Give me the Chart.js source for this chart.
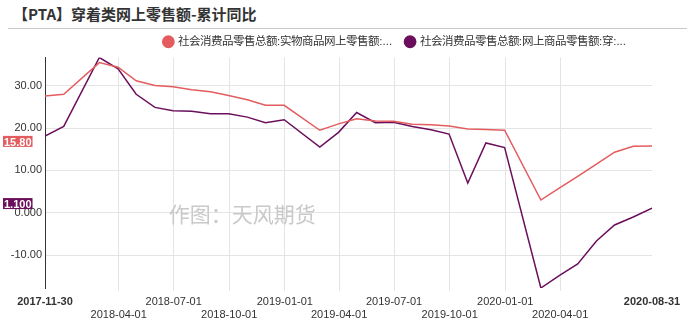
<!DOCTYPE html>
<html lang="zh-CN">
<head>
<meta charset="utf-8">
<title>【PTA】穿着类网上零售额-累计同比</title>
<script src="https://cdn.jsdelivr.net/npm/chart.js@4.4.1/dist/chart.umd.min.js"></script>
<style>
  html, body { margin: 0; padding: 0; background: #fff; }
  .wrap { position: relative; width: 687px; height: 322px; overflow: hidden;
          font-family: "Noto Sans CJK SC", "Liberation Sans", sans-serif; }
  .title { position: absolute; left: 13px; top: 3px; font-size: 15px; font-weight: bold; color: #333; white-space: nowrap; }
  .rule { position: absolute; left: 8px; right: 0; top: 28px; border-top: 1px solid #c8c8c8; }
  .plot { position: absolute; left: 0; top: 22px; }
</style>
</head>
<body>
<div class="wrap">
  <div class="title">【PTA】穿着类网上零售额-累计同比</div>
  <div class="rule"></div>
  <canvas class="plot" id="chart" width="687" height="300"></canvas>
</div>
<script>
// 月度数据（1月与2月合并发布）
const dates = [
  '2017-11-30', '2017-12-31', '2018-02-28', '2018-03-31', '2018-04-30', '2018-05-31',
  '2018-06-30', '2018-07-31', '2018-08-31', '2018-09-30', '2018-10-31', '2018-11-30',
  '2018-12-31', '2019-02-28', '2019-03-31', '2019-04-30', '2019-05-31', '2019-06-30',
  '2019-07-31', '2019-08-31', '2019-09-30', '2019-10-31', '2019-11-30', '2019-12-31',
  '2020-02-29', '2020-03-31', '2020-04-30', '2020-05-31', '2020-06-30', '2020-07-31',
  '2020-08-31'
];
const physicalOnline = [
  27.6, 28.0, 35.5, 34.4, 31.2, 30.1, 29.8, 29.1, 28.6, 27.7, 26.7, 25.4,
  25.4, 19.5, 21.0, 22.2, 21.7, 21.6, 20.9, 20.8, 20.5, 19.8, 19.7, 19.5,
  3.0, 5.9, 8.6, 11.5, 14.3, 15.7, 15.8
];
const apparelOnline = [
  18.1, 20.4, 36.7, 34.0, 28.0, 24.9, 24.1, 24.0, 23.4, 23.4, 22.6, 21.3,
  22.0, 15.5, 19.0, 23.7, 21.3, 21.4, 20.4, 19.6, 18.6, 7.0, 16.5, 15.4,
  -17.8, -14.8, -12.1, -6.7, -2.9, -1.0, 1.1
];
const seriesNames = [
  '社会消费品零售总额:实物商品网上零售额:...',
  '社会消费品零售总额:网上商品零售额:穿:...'
];
const xTickDates = [
  '2017-11-30', '2018-04-01', '2018-07-01', '2018-10-01', '2019-01-01', '2019-04-01',
  '2019-07-01', '2019-10-01', '2020-01-01', '2020-04-01', '2020-08-31'
];
const yTickValues = [-10, 0, 10, 20, 30];
const watermark = '作图：天风期货';

const RED = '#e35c5f';
const PURPLE = '#6b0f5c';
const GRID = '#e4e4e4';
const TEXT = '#333';

const toTs = s => Date.parse(s + 'T00:00:00Z');
const points = vals => dates.map((d, i) => ({ x: toTs(d), y: vals[i] }));
const allValues = physicalOnline.concat(apparelOnline);

// 水印
const watermarkPlugin = {
  id: 'watermark',
  beforeDatasetsDraw(chart) {
    const { ctx, chartArea: a } = chart;
    ctx.save();
    ctx.font = '21px "Noto Sans CJK SC", sans-serif';
    ctx.fillStyle = '#c9c9c9';
    ctx.textAlign = 'center';
    ctx.textBaseline = 'middle';
    ctx.fillText(watermark, a.left + (a.right - a.left) * 0.325, a.top + (a.bottom - a.top) * 0.68);
    ctx.restore();
  }
};

// 图例整体向左收一点，不贴着绘图区右缘
const legendInset = {
  id: 'legendInset',
  afterLayout(chart) {
    if (chart.legend) chart.legend.right -= 12;
  }
};

// 左侧最新值标签
const lastValueTags = {
  id: 'lastValueTags',
  afterDraw(chart) {
    const { ctx, scales: { y } } = chart;
    ctx.save();
    ctx.font = 'bold 11px "Liberation Sans", Arial, sans-serif';
    ctx.textBaseline = 'alphabetic';
    chart.data.datasets.forEach(ds => {
      const v = ds.data[ds.data.length - 1].y;
      const py = y.getPixelForValue(v);
      const text = v.toPrecision(4);
      const w = ctx.measureText(text).width;
      ctx.fillStyle = ds.borderColor;
      ctx.fillRect(3, py - 10, w + 2, 11);
      ctx.fillStyle = '#fff';
      ctx.fillText(text, 4, py);
    });
    ctx.restore();
  }
};

const lastX = xTickDates.length - 1;

new Chart(document.getElementById('chart'), {
  type: 'line',
  data: {
    datasets: [
      { label: seriesNames[0], data: points(physicalOnline), borderColor: RED, backgroundColor: RED,
        borderWidth: 1.5, pointRadius: 0, tension: 0 },
      { label: seriesNames[1], data: points(apparelOnline), borderColor: PURPLE, backgroundColor: PURPLE,
        borderWidth: 1.5, pointRadius: 0, tension: 0 }
    ]
  },
  options: {
    animation: false,
    responsive: false,
    layout: { padding: { left: 0, right: 35, top: 0, bottom: 0 } },
    plugins: {
      legend: {
        position: 'top',
        align: 'end',
        labels: {
          usePointStyle: true, pointStyle: 'circle', boxWidth: 8, boxHeight: 8,
          padding: 14, color: TEXT, font: { size: 11.5 }
        }
      },
      tooltip: { enabled: false }
    },
    scales: {
      x: {
        type: 'linear',
        min: toTs(dates[0]),
        max: toTs(dates[dates.length - 1]),
        afterBuildTicks: s => { s.ticks = xTickDates.map(d => ({ value: toTs(d) })); },
        afterFit: s => { s.height = 34; },
        ticks: {
          autoSkip: false, maxRotation: 0, color: TEXT, padding: 4,
          font: c => ({ size: 11, weight: (c.index === 0 || c.index === lastX) ? 'bold' : 'normal' }),
          callback: (v, i) => i % 2 ? ['', xTickDates[i]] : xTickDates[i]
        },
        grid: {
          color: c => (c.index === 0 || c.index === lastX) ? 'transparent' : GRID,
          tickLength: 3
        },
        border: { display: false }
      },
      y: {
        min: Math.min(...allValues),
        max: Math.max(...allValues),
        afterBuildTicks: s => { s.ticks = yTickValues.map(v => ({ value: v })); },
        afterFit: s => { s.width = 45; },
        ticks: { color: TEXT, padding: 3, font: { size: 11 }, callback: v => v.toPrecision(4) },
        grid: { color: GRID, drawTicks: false },
        border: { color: TEXT, width: 1 }
      }
    }
  },
  plugins: [watermarkPlugin, legendInset, lastValueTags]
});
</script>
</body>
</html>
